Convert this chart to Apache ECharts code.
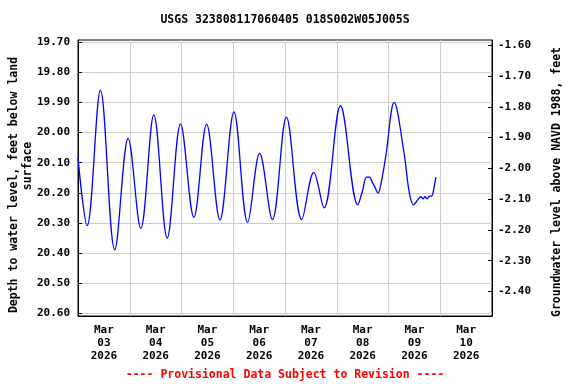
<!DOCTYPE html>
<html>
<head>
<meta charset="utf-8">
<script src="https://cdn.jsdelivr.net/npm/echarts@6/dist/echarts.min.js"></script>
<style>html,body{margin:0;padding:0;background:#fff}#c{width:576px;height:384px}</style>
</head>
<body>
<div id="c"></div>
<script>
// hours since 2026-03-03 00:00
const hours = [0, 4.23, 10.4, 17.05, 23.27, 29.12, 35.16, 41.38, 47.56, 53.74, 59.63, 65.81, 72.31, 78.68, 84.25, 90.15, 96.65, 103.75, 109.33, 114.11, 121.73, 129.77, 131.95, 133.80, 135.34, 136.27, 137.43, 139.19, 140.49, 142.77, 146.62, 151.27, 153.59, 155.63, 157.17, 159.03, 160.09, 160.88, 161.95, 162.74, 164.13, 165.06, 165.99];
const depth = [20.085, 20.309, 19.859, 20.389, 20.019, 20.318, 19.941, 20.350, 19.971, 20.281, 19.972, 20.290, 19.931, 20.298, 20.069, 20.289, 19.949, 20.289, 20.132, 20.250, 19.911, 20.240, 20.193, 20.148, 20.148, 20.162, 20.177, 20.201, 20.171, 20.077, 19.900, 20.071, 20.197, 20.240, 20.227, 20.213, 20.220, 20.213, 20.220, 20.212, 20.210, 20.184, 20.148];
const dayLabels = ['Mar\n03\n2026', 'Mar\n04\n2026', 'Mar\n05\n2026', 'Mar\n06\n2026', 'Mar\n07\n2026', 'Mar\n08\n2026', 'Mar\n09\n2026', 'Mar\n10\n2026'];
const leftTicks = [19.7, 19.8, 19.9, 20.0, 20.1, 20.2, 20.3, 20.4, 20.5, 20.6];
const rightTicks = [-1.6, -1.7, -1.8, -1.9, -2.0, -2.1, -2.2, -2.3, -2.4];
const titleText = 'USGS 323808117060405 018S002W05J005S';
const leftName1 = 'Depth to water level, feet below land';
const leftName2 = 'surface';
const rightName = 'Groundwater level above NAVD 1988, feet';
const footText = '---- Provisional Data Subject to Revision ----';

const FONT = 'DejaVu Sans Mono';
const labelNoons = dayLabels.map((_, i) => i * 24 + 12);
const chart = echarts.init(document.getElementById('c'), null, {renderer: 'canvas'});
const txt = (text, x, y, rot, color, size) => ({
  type: 'text', x: x, y: y, rotation: rot || 0,
  style: {text: text, x: 0, y: 0, align: 'center', verticalAlign: 'middle',
    fill: color || '#000', font: 'bold ' + (size || 11) + 'px "' + FONT + '"'}
});
chart.setOption({
  animation: false,
  grid: {left: 78, top: 40, width: 414, height: 276, show: true, borderColor: '#000', borderWidth: 1, backgroundColor: '#fff'},
  xAxis: {
    type: 'value', min: 0, max: 192, interval: 24,
    axisLine: {show: true, lineStyle: {color: '#000', width: 1}},
    axisTick: {show: false},
    splitLine: {show: true, lineStyle: {color: '#cccccc', width: 1}},
    axisLabel: {
      customValues: labelNoons, margin: 8, lineHeight: 13,
      fontFamily: FONT, fontWeight: 'bold', fontSize: 11, color: '#000',
      formatter: v => dayLabels[Math.round((v - 12) / 24)]
    }
  },
  yAxis: [{
    type: 'value', inverse: true, min: 19.6927, max: 20.6089,
    axisLine: {show: true, lineStyle: {color: '#000', width: 1}},
    axisTick: {show: true, inside: true, length: 4, customValues: leftTicks, lineStyle: {color: '#000'}},
    splitLine: {show: true, lineStyle: {color: '#cccccc', width: 1}},
    axisLabel: {customValues: leftTicks, margin: 8, fontFamily: FONT, fontWeight: 'bold', fontSize: 11, color: '#000',
      formatter: v => v.toFixed(2)}
  }, {
    type: 'value', position: 'right', min: -2.4796, max: -1.5828,
    axisLine: {show: true, lineStyle: {color: '#000', width: 1}},
    axisTick: {show: true, inside: true, length: 4, customValues: rightTicks, lineStyle: {color: '#000'}},
    splitLine: {show: false},
    axisLabel: {customValues: rightTicks, margin: 6, fontFamily: FONT, fontWeight: 'bold', fontSize: 11, color: '#000',
      formatter: v => v.toFixed(2)}
  }],
  series: [{
    type: 'line', yAxisIndex: 0, showSymbol: false, smooth: 0.36,
    lineStyle: {color: '#0000ff', width: 1.3}, itemStyle: {color: '#0000ff'},
    data: hours.map((h, i) => [h, depth[i]])
  }],
  graphic: [
    txt(titleText, 285, 20, 0, '#000', 11.5),
    txt(leftName1, 14, 185, Math.PI / 2, '#000', 11.5),
    txt(leftName2, 28, 166, Math.PI / 2, '#000', 11.5),
    txt(rightName, 557, 182, Math.PI / 2, '#000', 11.5),
    txt(footText, 285, 375, 0, '#ff0000', 11.5)
  ]
});
</script>
</body>
</html>
